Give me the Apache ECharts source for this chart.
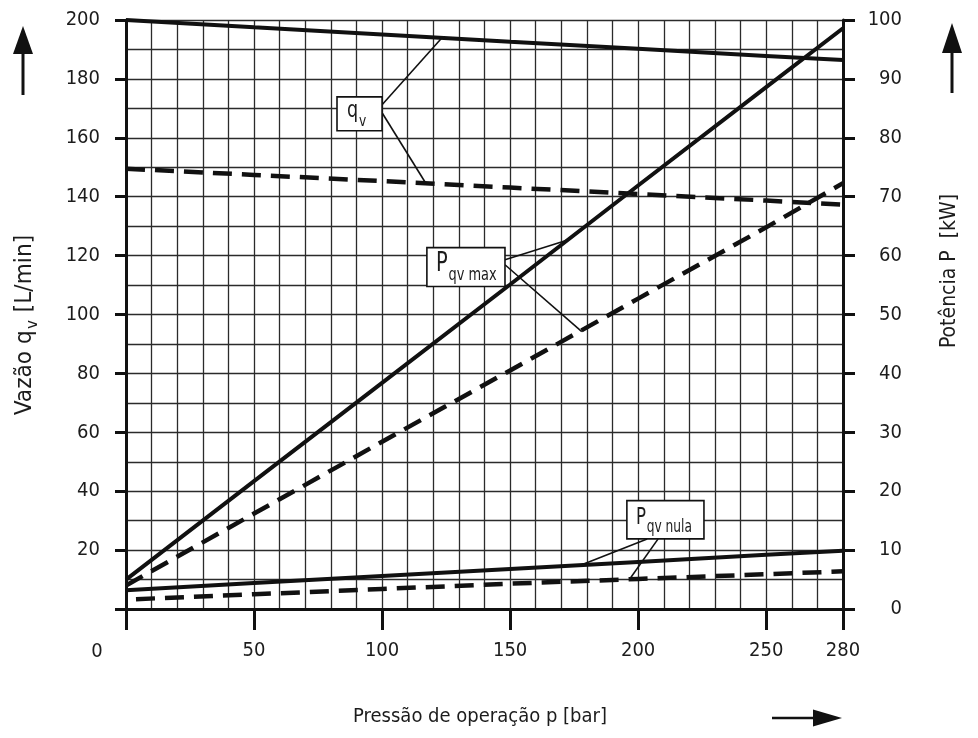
<!DOCTYPE html>
<html>
<head>
<meta charset="utf-8">
<title>Vazão e potência x pressão de operação</title>
<script src="https://cdn.jsdelivr.net/npm/echarts@6/dist/echarts.min.js"></script>
<style>
  html, body { margin: 0; padding: 0; background: #fff; }
  #chart { width: 978px; height: 738px; }
</style>
</head>
<body>
<div id="chart"></div>
<script>
// Operating pressure p [bar] at which the curves are sampled
const pressureBar = [0, 50, 100, 150, 200, 250, 280];

// Flow q_v [L/min] (left axis)
const flowFull = [200, 197.5, 195.1, 192.6, 190.2, 187.8, 186.4];
const flowReduced = [149.5, 147.4, 145.3, 143.1, 140.9, 138.7, 137.3];

// Power P [kW] at maximum displacement (right axis)
const powerMaxFull = [5.0, 21.7, 38.4, 55.1, 71.9, 88.6, 98.6];
const powerMaxReduced = [4.0, 16.2, 28.4, 40.5, 52.7, 64.8, 72.3];

// Power P [kW] at zero displacement (right axis)
const powerNullFull = [3.2, 4.4, 5.6, 6.8, 8.0, 9.2, 9.9];
const powerNullReduced = [1.6, 2.5, 3.4, 4.3, 5.1, 5.9, 6.4];

// Tick marks and labels
const pressureTicks = [0, 50, 100, 150, 200, 250, 280];
const pressureLabels = [50, 100, 150, 200, 250, 280];
const flowTicks = [0, 20, 40, 60, 80, 100, 120, 140, 160, 180, 200];
const flowLabels = [20, 40, 60, 80, 100, 120, 140, 160, 180, 200];

const FONT = '"Liberation Sans Narrow", "DejaVu Sans Condensed", Roboto, sans-serif';
const INK = '#111';
const GRID_INK = '#2b2b2b';
const TEXT_INK = '#1c1c1c';

const pairs = ys => pressureBar.map((x, i) => [x, ys[i]]);

const solid = { color: INK, width: 4, type: 'solid', cap: 'butt' };
const dashed = { color: INK, width: 4.5, type: [19, 10], cap: 'butt' };

function lineSeries(name, ys, yAxisIndex, style) {
  return {
    name, type: 'line', data: pairs(ys), xAxisIndex: 0, yAxisIndex,
    showSymbol: false, symbol: 'none', clip: false, smooth: false,
    lineStyle: style, z: 5, silent: true
  };
}

// Hidden axis used only to draw the fine 10-unit grid
function gridAxis(min, max, position) {
  return {
    type: 'value', min, max, interval: 10, position,
    axisLine: { show: false }, axisTick: { show: false }, axisLabel: { show: false },
    splitLine: { show: true, lineStyle: { color: GRID_INK, width: 1.3 } }
  };
}

const chart = echarts.init(document.getElementById('chart'), null, { renderer: 'canvas' });

chart.setOption({
  animation: false,
  backgroundColor: '#fff',
  textStyle: { fontFamily: FONT },
  grid: { left: 126, right: 135, top: 20, bottom: 129 },
  xAxis: [
    {
      type: 'value', min: 0, max: 280, interval: 10,
      axisLine: { show: true, onZero: false, lineStyle: { color: INK, width: 3 } },
      axisTick: { show: true, customValues: pressureTicks, length: 21, lineStyle: { color: INK, width: 3 } },
      axisLabel: { customValues: pressureLabels, margin: 32, fontSize: 20, color: TEXT_INK, fontFamily: FONT },
      splitLine: { show: false }
    },
    gridAxis(0, 280, 'bottom')
  ],
  yAxis: [
    {
      type: 'value', min: 0, max: 200, interval: 10, position: 'left',
      axisLine: { show: true, onZero: false, lineStyle: { color: INK, width: 3 } },
      axisTick: { show: true, customValues: flowTicks, length: 11, lineStyle: { color: INK, width: 3 } },
      axisLabel: { customValues: flowLabels, margin: 26, fontSize: 20, color: TEXT_INK, fontFamily: FONT },
      splitLine: { show: false }
    },
    {
      type: 'value', min: 0, max: 100, interval: 10, position: 'right',
      axisLine: { show: true, onZero: false, lineStyle: { color: INK, width: 3 } },
      axisTick: { show: true, length: 12, lineStyle: { color: INK, width: 3 } },
      axisLabel: { margin: 59, align: 'right', fontSize: 20, color: TEXT_INK, fontFamily: FONT },
      splitLine: { show: false }
    },
    gridAxis(0, 200, 'left')
  ],
  series: [
    lineSeries('q_v', flowFull, 0, solid),
    lineSeries('q_v reduzida', flowReduced, 0, dashed),
    lineSeries('P qv max', powerMaxFull, 1, solid),
    lineSeries('P qv max reduzida', powerMaxReduced, 1, dashed),
    lineSeries('P qv nula', powerNullFull, 1, solid),
    lineSeries('P qv nula reduzida', powerNullReduced, 1, Object.assign({}, dashed, { dashOffset: 19 }))
  ]
});

// Text helpers: pieces are laid out left to right on a shared baseline,
// each piece may be shifted down (subscript) by dy
const measureCtx = document.createElement('canvas').getContext('2d');
function textWidth(str, size) {
  measureCtx.font = size + 'px ' + FONT;
  return measureCtx.measureText(str).width;
}
function composite(pieces, x0, baseline, z) {
  const out = [];
  let x = x0;
  pieces.forEach(p => {
    out.push({
      type: 'text', silent: true, z: z || 0, x, y: baseline + (p.dy || 0) - 0.35 * p.size,
      style: { text: p.t, align: 'left', verticalAlign: 'middle', fontSize: p.size, fontFamily: FONT, fill: TEXT_INK }
    });
    x += textWidth(p.t, p.size) + (p.gap || 0);
  });
  return { children: out, width: x - x0 };
}

// Callout boxes with leader lines; box corners and leader ends are in data units
// (box and leader start on the flow axis, leader end on the axis of the curve it points to)
const callouts = [
  {
    pieces: [{ t: 'q', size: 23, gap: 1 }, { t: 'v', size: 16, dy: 9 }],
    padLeft: 10, baseline: 22, squeeze: 0.85,
    box: [82.4, 173.9, 100, 162.4],
    leaders: [
      { from: [100, 171.2], to: [123.4, 194.0], axis: 0 },
      { from: [100, 168.5], to: [117.2, 144.4], axis: 0 }
    ]
  },
  {
    pieces: [{ t: 'P', size: 27, gap: 1 }, { t: 'qv max', size: 18, dy: 8 }],
    padLeft: 9, baseline: 26, squeeze: 0.8,
    box: [117.5, 122.7, 148, 109.5],
    leaders: [
      { from: [148, 118.6], to: [172.2, 62.6], axis: 1 },
      { from: [148, 116.9], to: [178, 47.1], axis: 1 }
    ]
  },
  {
    pieces: [{ t: 'P', size: 23, gap: 1 }, { t: 'qv nula', size: 17, dy: 8 }],
    padLeft: 9, baseline: 25, squeeze: 0.8,
    box: [195.6, 36.8, 225.7, 23.8],
    leaders: [
      { from: [203.5, 23.8], to: [178, 7.5], axis: 1 },
      { from: [207.8, 23.8], to: [196.8, 5.15], axis: 1 }
    ]
  }
];

function toPx(pt, axis) {
  return chart.convertToPixel({ xAxisIndex: 0, yAxisIndex: axis }, pt);
}

const graphics = [];

callouts.forEach(c => {
  const p0 = toPx([c.box[0], c.box[1]], 0);
  const p1 = toPx([c.box[2], c.box[3]], 0);
  c.leaders.forEach(l => {
    const a = toPx(l.from, 0);
    const b = toPx(l.to, l.axis);
    graphics.push({
      type: 'line', z: 20, silent: true,
      shape: { x1: a[0], y1: a[1], x2: b[0], y2: b[1] },
      style: { stroke: INK, lineWidth: 1.6 }
    });
  });
  graphics.push({
    type: 'rect', z: 21, silent: true,
    shape: { x: p0[0], y: p0[1], width: p1[0] - p0[0], height: p1[1] - p0[1] },
    style: { fill: '#fff', stroke: INK, lineWidth: 1.6 }
  });
  const label = composite(c.pieces, 0, 0, 22);
  graphics.push({
    type: 'group', z: 22, silent: true,
    x: p0[0] + c.padLeft, y: p0[1] + c.baseline, scaleX: c.squeeze,
    children: label.children
  });
});

// Axis titles
const leftTitle = composite([
  { t: 'Vazão q', size: 23, gap: 1 },
  { t: 'v', size: 16, dy: 5, gap: 1 },
  { t: ' [L/min]', size: 23 }
], 0, 0, 10);
graphics.push({
  type: 'group', silent: true, x: 33, y: 325, rotation: Math.PI / 2, scaleX: 1.05,
  children: leftTitle.children.map(ch => Object.assign(ch, { x: ch.x - leftTitle.width / 2 }))
});
graphics.push({
  type: 'text', silent: true, x: 950, y: 271, rotation: Math.PI / 2,
  style: { text: 'Potência P  [kW]', align: 'center', verticalAlign: 'middle', fontSize: 21, fontFamily: FONT, fill: TEXT_INK }
});
graphics.push({
  type: 'text', silent: true, x: 480, y: 717,
  style: { text: 'Pressão de operação p [bar]', align: 'center', verticalAlign: 'middle', fontSize: 20, fontFamily: FONT, fill: TEXT_INK }
});
// Origin label shared by both axes
graphics.push({
  type: 'text', silent: true, x: 97, y: 652,
  style: { text: '0', align: 'center', verticalAlign: 'middle', fontSize: 20, fontFamily: FONT, fill: TEXT_INK }
});

// Direction arrows
function upArrow(cx, tip, headBase, tail) {
  graphics.push({ type: 'line', silent: true, shape: { x1: cx, y1: headBase, x2: cx, y2: tail }, style: { stroke: INK, lineWidth: 3 } });
  graphics.push({ type: 'polygon', silent: true, shape: { points: [[cx, tip], [cx - 10, headBase + 1], [cx + 10, headBase + 1]] }, style: { fill: INK } });
}
upArrow(23, 26, 53, 95);
upArrow(952, 23, 52, 93);
graphics.push({ type: 'line', silent: true, shape: { x1: 772, y1: 718, x2: 815, y2: 718 }, style: { stroke: INK, lineWidth: 2.5 } });
graphics.push({ type: 'polygon', silent: true, shape: { points: [[842, 718], [813, 709.5], [813, 726.5]] }, style: { fill: INK } });

chart.setOption({ graphic: graphics });
</script>
</body>
</html>
